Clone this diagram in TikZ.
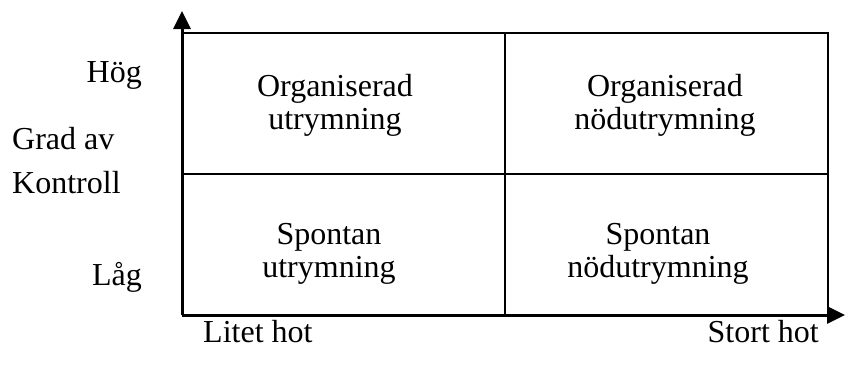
\documentclass[tikz,border=0pt]{standalone}
\usepackage{fontspec}
\setmainfont{Liberation Serif}
\usetikzlibrary{arrows.meta}
\begin{document}
\begin{tikzpicture}[x=1pt,y=-1pt,
  axis/.style={line width=3pt,-{Triangle[length=18pt,width=17pt]}},
  grid line/.style={line width=1.6pt},
  txt/.style={font=\fontsize{32}{33}\selectfont,inner sep=0pt,align=center},
  side/.style={font=\fontsize{32}{33}\selectfont,inner sep=0pt}]
\useasboundingbox (0,0) rectangle (845,365);
% corner points of the matrix
\coordinate (o) at (182,315);
\coordinate (ytip) at (182,11);
\coordinate (xtip) at (845,315);
\coordinate (tl) at (182,33);
\coordinate (tr) at (828,33);
\coordinate (br) at (828,315);
\coordinate (tm) at (505,33);
\coordinate (bm) at (505,315);
\coordinate (ml) at (182,174);
\coordinate (mr) at (828,174);
% grid
\draw[grid line] (tl) -- (tr) -- (br);
\draw[grid line] (tm) -- (bm);
\draw[grid line] (ml) -- (mr);
% axes
\draw[axis] (o) -- (ytip);
\draw[axis] (o) -- (xtip);
% cells
\node[txt] (c11) at (335,105) {Organiserad\\utrymning};
\node[txt] (c12) at (665,105) {Organiserad\\nödutrymning};
\node[txt] (c21) at (329,254) {Spontan\\utrymning};
\node[txt] (c22) at (658,254) {Spontan\\nödutrymning};
% vertical axis labels
\node[side,anchor=base east] (hog) at (142,82) {Hög};
\node[side,anchor=base west] (grad) at (12,149) {Grad av};
\node[side,anchor=base west] (kontroll) at (12,193) {Kontroll};
\node[side,anchor=base east] (lag) at (142,285) {Låg};
% horizontal axis labels
\node[side,anchor=base west] (litet) at (203,342) {Litet hot};
\node[side,anchor=base east] (stort) at (819,342) {Stort hot};
\end{tikzpicture}
\end{document}
